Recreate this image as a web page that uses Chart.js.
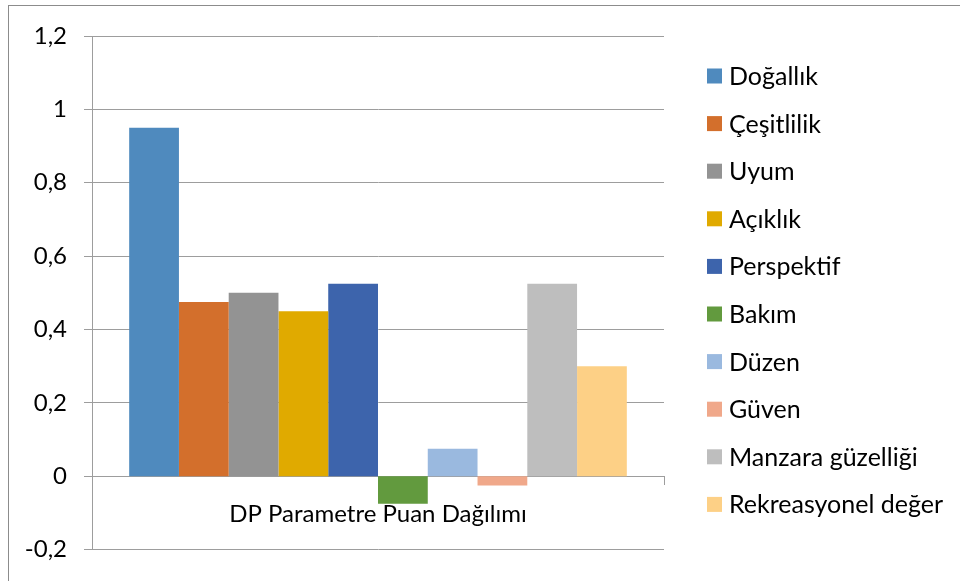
<!DOCTYPE html>
<html lang="tr">
<head>
<meta charset="utf-8">
<title>DP Parametre Puan Dağılımı</title>
<script src="https://cdn.jsdelivr.net/npm/chart.js@4/dist/chart.umd.min.js"></script>
<style>
    html, body { margin: 0; padding: 0; background: #fff; }
    #wrap { position: relative; width: 960px; height: 581px; overflow: hidden; }
    #frame {
        position: absolute; left: 8px; top: 5px; width: 980px; height: 600px;
        border: 1px solid #8c8c8c; box-sizing: border-box;
    }
    #chart { position: absolute; left: 0; top: 0; }
</style>
</head>
<body>
<div id="wrap">
    <div id="frame"></div>
    <canvas id="chart" width="960" height="581"></canvas>
</div>
<script>
// Category and parameter scores
const categories = ['DP Parametre Puan Dağılımı'];
const parameters = ['Doğallık', 'Çeşitlilik', 'Uyum', 'Açıklık', 'Perspektif', 'Bakım', 'Düzen', 'Güven', 'Manzara güzelliği', 'Rekreasyonel değer'];
const scores = [0.95, 0.475, 0.5, 0.45, 0.525, -0.075, 0.075, -0.025, 0.525, 0.3];
const colors = ['#4f8abe', '#d36f2c', '#939393', '#e0aa00', '#3d64ac', '#629a3e', '#9ab9df', '#f0a88a', '#bebebe', '#fdd086'];

// Value axis range
const yMin = -0.2;
const yMax = 1.2;
const yStep = 0.2;

const gridColor = '#9d9d9d';
const fontFamily = "Lato, 'Open Sans', sans-serif";

function formatTick(value) {
    return String(Number(value.toFixed(1))).replace('.', ',');
}

// Legend column on the right, one square swatch per dataset
const sideLegend = {
    id: 'sideLegend',
    afterDraw(chart, args, opts) {
        const ctx = chart.ctx;
        ctx.save();
        ctx.font = `${opts.fontSize}px ${fontFamily}`;
        ctx.textBaseline = 'middle';
        ctx.textAlign = 'left';
        chart.data.datasets.forEach((ds, i) => {
            const y = opts.top + i * opts.spacing;
            ctx.fillStyle = ds.backgroundColor;
            ctx.fillRect(opts.x, y - opts.box / 2, opts.box, opts.box);
            ctx.fillStyle = '#000';
            ctx.fillText(ds.label, opts.x + opts.box + 7, y + 1);
        });
        ctx.restore();
    }
};

const datasets = parameters.map((name, i) => ({
    label: name,
    data: [scores[i]],
    backgroundColor: colors[i],
    borderWidth: 0
}));

new Chart(document.getElementById('chart').getContext('2d'), {
    type: 'bar',
    data: {
        labels: categories,
        datasets: datasets
    },
    plugins: [sideLegend],
    options: {
        responsive: false,
        animation: false,
        categoryPercentage: 0.87,
        barPercentage: 1,
        layout: {
            padding: { top: 36, right: 296, bottom: 27, left: 0 }
        },
        plugins: {
            legend: { display: false },
            tooltip: { enabled: false },
            sideLegend: { x: 707, top: 76, spacing: 47.6, box: 15, fontSize: 25 }
        },
        scales: {
            x: {
                position: { y: 0 },
                grid: {
                    drawOnChartArea: false,
                    tickLength: 8,
                    color: gridColor,
                    offset: true
                },
                border: { color: gridColor },
                ticks: {
                    color: '#000',
                    padding: 16,
                    font: { family: fontFamily, size: 24 }
                }
            },
            y: {
                min: yMin,
                max: yMax,
                grid: {
                    tickLength: 8,
                    color: gridColor
                },
                border: { color: gridColor },
                ticks: {
                    stepSize: yStep,
                    color: '#000',
                    padding: 17,
                    font: { family: fontFamily, size: 24 },
                    callback: formatTick
                },
                afterFit: scale => { scale.width = 92; }
            }
        }
    }
});
</script>
</body>
</html>
